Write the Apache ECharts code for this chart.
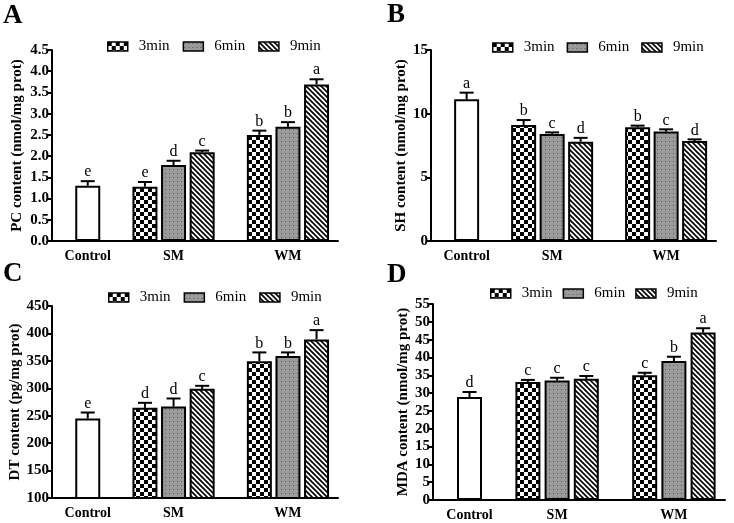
<!DOCTYPE html>
<html>
<head>
<meta charset="utf-8">
<title>PC, SH, DT and MDA content</title>
<script src="https://cdn.jsdelivr.net/npm/echarts@6/dist/echarts.min.js"></script>
<style>html,body{margin:0;padding:0;background:#fff;} #chartmain{width:734px;height:523px;}</style>
</head>
<body>
<div id="chartmain"></div>
<script type="text/javascript">
// groups on the x axis and the three exposure times
var groups = ['Control', 'SM', 'WM'];
var times = ['3min', '6min', '9min'];
// bar order: Control, SM 3/6/9min, WM 3/6/9min
var pcMean = [1.30, 1.28, 1.79, 2.09, 2.50, 2.69, 3.69];
var pcSd = [0.11, 0.11, 0.10, 0.04, 0.10, 0.11, 0.12];
var pcLetter = ['e', 'e', 'd', 'c', 'b', 'b', 'a'];
var shMean = [11.13, 9.11, 8.40, 7.80, 8.93, 8.59, 7.85];
var shSd = [0.52, 0.39, 0.13, 0.30, 0.13, 0.18, 0.13];
var shLetter = ['a', 'b', 'c', 'd', 'b', 'c', 'd'];
var dtMean = [244.9, 264.3, 266.8, 299.0, 349.5, 358.7, 389.1];
var dtSd = [10.9, 9.2, 14.6, 5.5, 15.9, 6.7, 16.9];
var dtLetter = ['e', 'd', 'd', 'c', 'b', 'b', 'a'];
var mdaMean = [28.9, 33.1, 33.5, 34.0, 35.0, 39.0, 47.0];
var mdaSd = [1.4, 0.6, 0.8, 0.8, 0.7, 1.2, 1.2];
var mdaLetter = ['d', 'c', 'c', 'c', 'c', 'b', 'a'];

var FONT = "'Liberation Serif', 'Times New Roman', serif";

// fill patterns like the graphpad ones
function makeTile(size, draw) {
    var c = document.createElement('canvas');
    c.width = size; c.height = size;
    draw(c.getContext('2d'), size);
    return {image: c, repeat: 'repeat'};
}
var fills = {
    '3min': makeTile(8, function (g) {
        g.fillStyle = '#fff'; g.fillRect(0, 0, 8, 8);
        g.fillStyle = '#000'; g.fillRect(0, 0, 4, 4); g.fillRect(4, 4, 4, 4);
    }),
    '6min': makeTile(4, function (g) {
        g.fillStyle = '#9a9a9a'; g.fillRect(0, 0, 4, 4);
        g.fillStyle = '#5a5a5a'; g.fillRect(1, 1, 1, 1);
    }),
    '9min': makeTile(5, function (g, n) {
        g.fillStyle = '#fff'; g.fillRect(0, 0, n, n);
        g.strokeStyle = '#000'; g.lineWidth = 1.7;
        for (var k = -1; k <= 1; k++) {
            g.beginPath(); g.moveTo(k * n - 1, -1); g.lineTo(k * n + n + 1, n + 1); g.stroke();
        }
    })
};

// 20 narrow slots on each category axis; bars sit on every other slot
var NSLOT = 20;
function slotOf(i) {
    if (i === 0) return 2;
    var g = Math.floor((i - 1) / 3), t = (i - 1) % 3;
    return 6 + g * 8 + 2 * t;
}
var labelSlot = {2: groups[0], 8: groups[1], 16: groups[2]};
var slotNames = [];
for (var s = 0; s < NSLOT; s++) slotNames.push(labelSlot[s] || ('_' + s));
function isLabel(idx) { return labelSlot[idx] !== undefined; }

var panels = [
    {key: 'A', name: 'PC content (nmol/mg prot)', mean: pcMean, sd: pcSd, letter: pcLetter,
     grid: {left: 52, top: 50, width: 286, height: 191}, min: 0, max: 4.5, step: 0.5, dec: 1,
     legend: {left: 107, top: 39, itemGap: 13}, nameGap: 27, title: {left: 3, top: 3}},
    {key: 'B', name: 'SH content (nmol/mg prot)', mean: shMean, sd: shSd, letter: shLetter,
     grid: {left: 431, top: 50, width: 285, height: 191}, min: 0, max: 15, step: 5, dec: 0,
     legend: {left: 492, top: 40, itemGap: 12}, nameGap: 22, title: {left: 387, top: 2}},
    {key: 'C', name: 'DT content (pg/mg prot)', mean: dtMean, sd: dtSd, letter: dtLetter,
     grid: {left: 52, top: 306, width: 286, height: 192}, min: 100, max: 450, step: 50, dec: 0,
     legend: {left: 108, top: 290, itemGap: 13}, nameGap: 27, title: {left: 3, top: 261}},
    {key: 'D', name: 'MDA content (nmol/mg prot)', mean: mdaMean, sd: mdaSd, letter: mdaLetter,
     grid: {left: 433, top: 304, width: 292, height: 196}, min: 0, max: 55, step: 5, dec: 0,
     legend: {left: 490, top: 286, itemGap: 10}, nameGap: 19, title: {left: 387, top: 262}}
];

var option = {
    animation: false,
    backgroundColor: '#fff',
    title: [], grid: [], xAxis: [], yAxis: [], legend: [], series: []
};

panels.forEach(function (p, pi) {
    option.title.push({text: p.key, left: p.title.left, top: p.title.top, padding: 0,
        textStyle: {fontFamily: FONT, fontSize: 27, fontWeight: 'bold', color: '#000'}});
    option.grid.push(p.grid);
    option.legend.push({
        data: times, left: p.legend.left, top: p.legend.top, itemGap: p.legend.itemGap, padding: 0,
        icon: 'rect', itemWidth: 20, itemHeight: 9,
        itemStyle: {borderColor: '#000', borderWidth: 1.5},
        textStyle: {fontFamily: FONT, fontSize: 15, color: '#000', padding: [0, 0, 0, 6]}
    });
    option.xAxis.push({
        type: 'category', gridIndex: pi, data: slotNames, boundaryGap: true,
        axisLine: {lineStyle: {color: '#000', width: 2}},
        axisTick: {interval: isLabel, alignWithLabel: true, length: 5, lineStyle: {color: '#000', width: 2}},
        axisLabel: {interval: isLabel, margin: 8, color: '#000', fontFamily: FONT, fontSize: 14, fontWeight: 'bold'}
    });
    option.yAxis.push({
        type: 'value', gridIndex: pi, min: p.min, max: p.max, interval: p.step,
        name: p.name, nameLocation: 'middle', nameGap: p.nameGap,
        nameTextStyle: {fontFamily: FONT, fontSize: 15, fontWeight: 'bold', color: '#000'},
        splitLine: {show: false},
        axisLine: {show: true, lineStyle: {color: '#000', width: 2}},
        axisTick: {show: true, length: 4, lineStyle: {color: '#000', width: 2}},
        axisLabel: {margin: 3, color: '#000', fontFamily: FONT, fontSize: 15, fontWeight: 'bold',
            formatter: function (v) { return v.toFixed(p.dec); }}
    });

    // control bar
    var ctrl = [];
    for (var s = 0; s < NSLOT; s++) ctrl.push('-');
    ctrl[slotOf(0)] = p.mean[0];
    option.series.push({
        type: 'bar', name: groups[0], xAxisIndex: pi, yAxisIndex: pi, data: ctrl,
        barWidth: 25, barGap: '-100%',
        itemStyle: {color: '#fff', borderColor: '#000', borderWidth: 2}
    });
    // 3 / 6 / 9 min bars for SM and WM
    times.forEach(function (t, ti) {
        var d = [];
        for (var s = 0; s < NSLOT; s++) d.push('-');
        [1 + ti, 4 + ti].forEach(function (i) { d[slotOf(i)] = p.mean[i]; });
        option.series.push({
            type: 'bar', name: t, xAxisIndex: pi, yAxisIndex: pi, data: d,
            barWidth: 25, barGap: '-100%',
            itemStyle: {color: fills[t], borderColor: '#000', borderWidth: 2}
        });
    });
    // error bars (upper half) with significance letters
    var err = p.mean.map(function (m, i) { return [slotOf(i), m, p.sd[i]]; });
    option.series.push({
        type: 'custom', xAxisIndex: pi, yAxisIndex: pi, data: err, z: 5,
        renderItem: function (params, api) {
            var x = api.value(0), m = api.value(1), sd = api.value(2);
            var a = api.coord([x, m]), b = api.coord([x, m + sd]);
            return {type: 'group', children: [
                {type: 'line', shape: {x1: a[0], y1: a[1], x2: b[0], y2: b[1]}, style: {stroke: '#000', lineWidth: 2}},
                {type: 'line', shape: {x1: b[0] - 7, y1: b[1], x2: b[0] + 7, y2: b[1]}, style: {stroke: '#000', lineWidth: 2}},
                {type: 'text', x: b[0], y: b[1] - 1, style: {text: p.letter[params.dataIndex], fill: '#000',
                    font: '16px ' + FONT, textAlign: 'center', textVerticalAlign: 'bottom'}}
            ]};
        }
    });
});

var myChart = echarts.init(document.getElementById('chartmain'));
myChart.setOption(option);
</script>
</body>
</html>
